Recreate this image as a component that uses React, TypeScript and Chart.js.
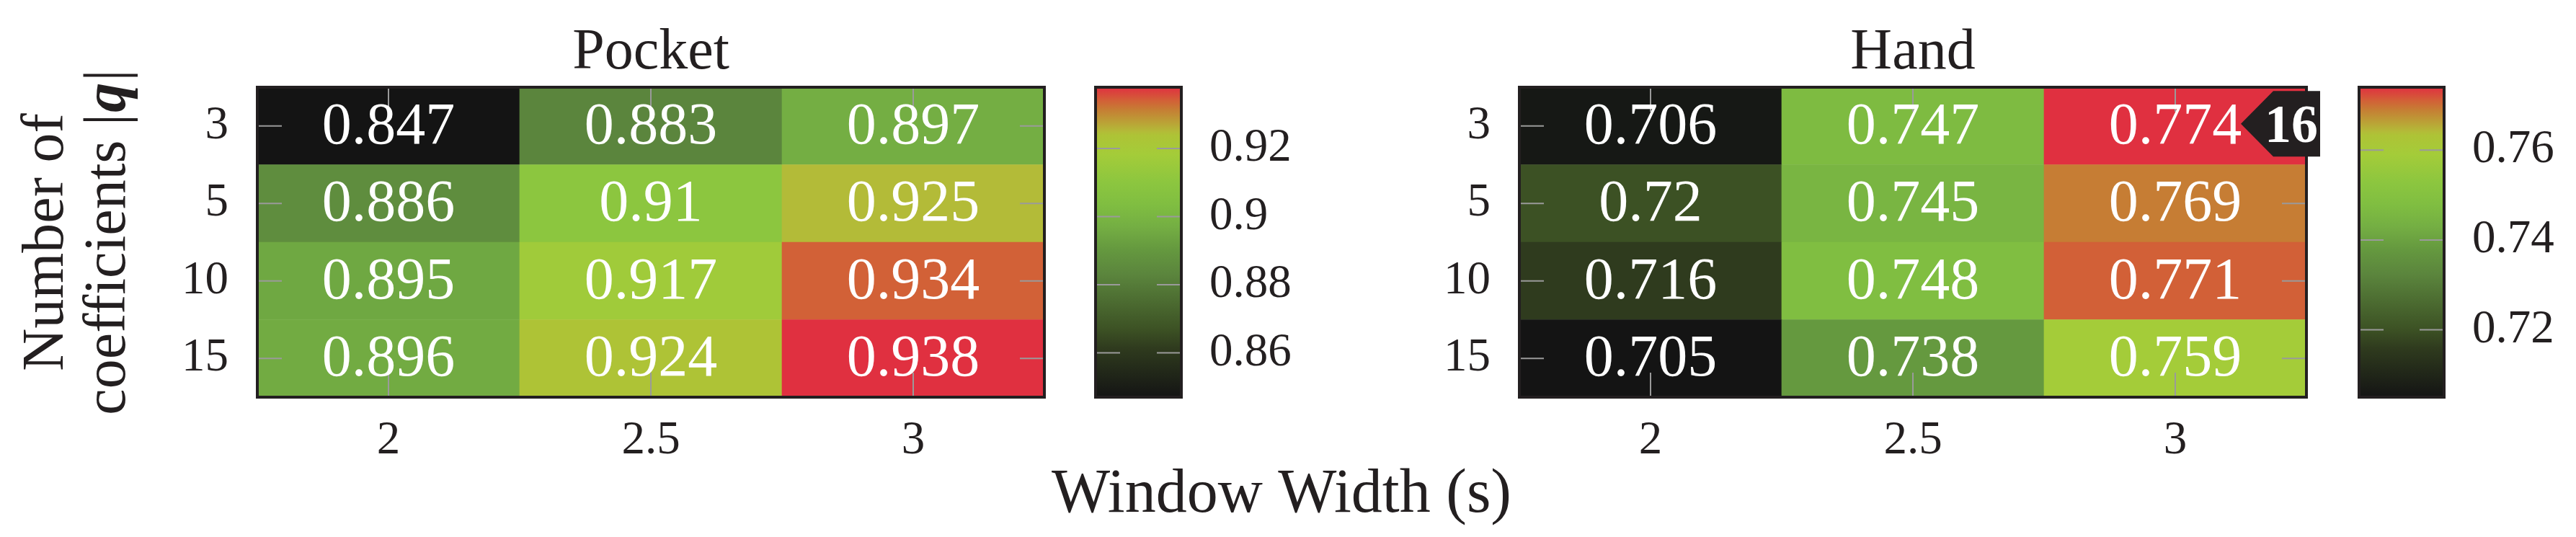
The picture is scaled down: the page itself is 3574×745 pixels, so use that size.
import React, { useEffect, useRef } from 'react';
import { Chart, registerables } from 'chart.js';

Chart.register(...registerables);

// ---------------- data ----------------
const WINDOW_WIDTHS = ['2', '2.5', '3'];
const COEFF_COUNTS = ['3', '5', '10', '15']; // top -> bottom

const POCKET_Q3 = [0.847, 0.883, 0.897];
const POCKET_Q5 = [0.886, 0.91, 0.925];
const POCKET_Q10 = [0.895, 0.917, 0.934];
const POCKET_Q15 = [0.896, 0.924, 0.938];

const HAND_Q3 = [0.706, 0.747, 0.774];
const HAND_Q5 = [0.72, 0.745, 0.769];
const HAND_Q10 = [0.716, 0.748, 0.771];
const HAND_Q15 = [0.705, 0.738, 0.759];

const POCKET_CB_TICKS = [0.86, 0.88, 0.9, 0.92];
const HAND_CB_TICKS = [0.72, 0.74, 0.76];

const HAND_BADGE_TEXT = '16';
const HAND_BADGE_ROW = 0; // row "3"
const HAND_BADGE_COL = 2; // column "3"

const TITLE_POCKET = 'Pocket';
const TITLE_HAND = 'Hand';
const X_TITLE = 'Window Width (s)';
const Y_TITLE_1 = 'Number of';
const Y_TITLE_2A = 'coefficients |';
const Y_TITLE_2B = 'q';
const Y_TITLE_2C = '|';

// ---------------- style ----------------
const W = 3574;
const H = 745;
const TOP = 121;
const BOTTOM = 551;
const SERIF = "'Liberation Serif', 'Times New Roman', serif";
const DARK = '#231f20';
const TICK_GRAY = '#9a9a9a';
const TICK_LEN = 34;

// colormap stops [t, r, g, b]
const CMAP: number[][] = [
  [0, 20, 20, 20],
  [0.159, 47, 59, 30],
  [0.217, 60, 81, 36],
  [0.396, 91, 133, 61],
  [0.478, 101, 153, 63],
  [0.549, 116, 174, 67],
  [0.623, 128, 190, 65],
  [0.692, 140, 198, 63],
  [0.783, 164, 204, 57],
  [0.846, 174, 195, 54],
  [0.857, 179, 187, 56],
  [0.928, 198, 125, 52],
  [0.957, 210, 96, 55],
  [1, 224, 48, 64],
];

function cmapColor(t: number): string {
  const tt = Math.max(0, Math.min(1, t));
  for (let i = 0; i < CMAP.length - 1; i++) {
    const a = CMAP[i];
    const b = CMAP[i + 1];
    if (tt >= a[0] && tt <= b[0]) {
      const f = (tt - a[0]) / (b[0] - a[0] || 1);
      const r = Math.round(a[1] + (b[1] - a[1]) * f);
      const g = Math.round(a[2] + (b[2] - a[2]) * f);
      const bl = Math.round(a[3] + (b[3] - a[3]) * f);
      return `rgb(${r},${g},${bl})`;
    }
  }
  const l = CMAP[CMAP.length - 1];
  return `rgb(${l[1]},${l[2]},${l[3]})`;
}

function rangeOf(rows: number[][]) {
  const all = rows.flat();
  return { min: Math.min(...all), max: Math.max(...all) };
}

function line(ctx: CanvasRenderingContext2D, x1: number, y1: number, x2: number, y2: number) {
  ctx.beginPath();
  ctx.moveTo(x1, y1);
  ctx.lineTo(x2, y2);
  ctx.stroke();
}

type HeatOpts = {
  rows: number[][]; // top -> bottom
  title: string;
  areaLeft: number;
  areaRight: number;
  drawYTitle?: boolean;
  drawXTitle?: boolean;
  badge?: { row: number; col: number; text: string };
};

function heatmapConfig(o: HeatOpts): any {
  const { min, max } = rangeOf(o.rows);
  const nRows = o.rows.length;
  const bottomUp = [...o.rows].reverse();

  const decor = {
    id: 'heatDecor',
    afterDatasetsDraw(chart: any) {
      const ctx: CanvasRenderingContext2D = chart.ctx;
      const a = chart.chartArea;
      const xs = chart.scales.x;
      const ys = chart.scales.y;
      ctx.save();
      // inner tick marks
      ctx.strokeStyle = TICK_GRAY;
      ctx.lineWidth = 2;
      ys.ticks.forEach((_: any, i: number) => {
        const y = ys.getPixelForTick(i);
        line(ctx, a.left, y, a.left + TICK_LEN, y);
        line(ctx, a.right - TICK_LEN, y, a.right, y);
      });
      xs.ticks.forEach((_: any, i: number) => {
        const x = xs.getPixelForTick(i);
        line(ctx, x, a.top, x, a.top + TICK_LEN);
        line(ctx, x, a.bottom - TICK_LEN, x, a.bottom);
      });
      // cell labels
      ctx.fillStyle = '#ffffff';
      ctx.font = `82px ${SERIF}`;
      ctx.textAlign = 'center';
      ctx.textBaseline = 'alphabetic';
      bottomUp.forEach((vals, di) => {
        const meta = chart.getDatasetMeta(di);
        meta.data.forEach((el: any, j: number) => {
          const c = el.getCenterPoint();
          ctx.fillText(String(vals[j]), c.x, c.y + 24);
        });
      });
      // frame
      ctx.strokeStyle = DARK;
      ctx.lineWidth = 4;
      ctx.strokeRect(a.left, a.top, a.right - a.left, a.bottom - a.top);
      // title
      ctx.fillStyle = DARK;
      ctx.font = `80px ${SERIF}`;
      ctx.textAlign = 'center';
      ctx.fillText(o.title, (a.left + a.right) / 2, 95);
      // badge
      if (o.badge) {
        const di = nRows - 1 - o.badge.row;
        const el: any = chart.getDatasetMeta(di).data[o.badge.col];
        const right = el.x + el.width / 2;
        const cy = (el.y + el.base) / 2 - 3;
        ctx.fillStyle = DARK;
        ctx.beginPath();
        ctx.moveTo(right - 91, cy);
        ctx.lineTo(right - 46, cy - 45.5);
        ctx.lineTo(right + 19, cy - 45.5);
        ctx.lineTo(right + 19, cy + 45.5);
        ctx.lineTo(right - 46, cy + 45.5);
        ctx.closePath();
        ctx.fill();
        ctx.fillStyle = '#ffffff';
        ctx.font = `bold 74px ${SERIF}`;
        ctx.textAlign = 'center';
        ctx.fillText(o.badge.text, right - 21, cy + 25);
      }
      // shared axis titles
      if (o.drawYTitle) {
        const cyT = (a.top + a.bottom) / 2;
        ctx.fillStyle = DARK;
        ctx.font = `82px ${SERIF}`;
        ctx.save();
        ctx.translate(87, cyT);
        ctx.rotate(-Math.PI / 2);
        ctx.textAlign = 'center';
        ctx.fillText(Y_TITLE_1, 0, 0);
        ctx.restore();
        ctx.save();
        ctx.translate(173, cyT);
        ctx.rotate(-Math.PI / 2);
        ctx.textAlign = 'left';
        const fN = `82px ${SERIF}`;
        const fB = `italic bold 82px ${SERIF}`;
        ctx.font = fN;
        const w1 = ctx.measureText(Y_TITLE_2A).width;
        const w3 = ctx.measureText(Y_TITLE_2C).width;
        ctx.font = fB;
        const w2 = ctx.measureText(Y_TITLE_2B).width + 4;
        let x = -(w1 + w2 + w3) / 2;
        ctx.font = fN;
        ctx.fillText(Y_TITLE_2A, x, 0);
        x += w1;
        ctx.font = fB;
        ctx.fillText(Y_TITLE_2B, x + 2, 0);
        x += w2;
        ctx.font = fN;
        ctx.fillText(Y_TITLE_2C, x, 0);
        ctx.restore();
      }
      if (o.drawXTitle) {
        ctx.fillStyle = DARK;
        ctx.font = `86px ${SERIF}`;
        ctx.textAlign = 'center';
        ctx.fillText(X_TITLE, 1778, 710);
      }
      ctx.restore();
    },
  };

  return {
    type: 'bar',
    data: {
      labels: WINDOW_WIDTHS,
      datasets: bottomUp.map((vals) => ({
        data: vals.map(() => 1),
        backgroundColor: vals.map((v) => cmapColor((v - min) / (max - min))),
        borderWidth: 0,
        barPercentage: 1,
        categoryPercentage: 1,
      })),
    },
    options: {
      responsive: false,
      animation: false,
      events: [],
      layout: { padding: { left: 0, top: TOP, right: W - o.areaRight, bottom: 0 } },
      plugins: { legend: { display: false }, tooltip: { enabled: false }, title: { display: false } },
      scales: {
        x: {
          type: 'category',
          stacked: true,
          offset: true,
          grid: { display: false },
          border: { display: false },
          ticks: {
            font: { family: SERIF, size: 65 },
            color: DARK,
            padding: 14,
            maxRotation: 0,
            autoSkip: false,
          },
          afterFit: (s: any) => {
            s.height = H - BOTTOM;
          },
        },
        y: {
          type: 'linear',
          stacked: true,
          min: 0,
          max: nRows,
          grid: { display: false },
          border: { display: false },
          afterBuildTicks: (s: any) => {
            s.ticks = COEFF_COUNTS.map((_, i) => ({ value: nRows - 1 - i + 0.5 })).reverse();
          },
          ticks: {
            autoSkip: false,
            font: { family: SERIF, size: 65 },
            color: DARK,
            padding: 32,
            callback: (v: number) => COEFF_COUNTS[nRows - 1 - Math.floor(v)],
          },
          afterFit: (s: any) => {
            s.width = o.areaLeft;
          },
        },
      },
    },
    plugins: [decor],
  };
}

function colorbarConfig(rows: number[][], ticks: number[], left: number, right: number): any {
  const { min, max } = rangeOf(rows);
  const decor = {
    id: 'cbDecor',
    afterDatasetsDraw(chart: any) {
      const ctx: CanvasRenderingContext2D = chart.ctx;
      const a = chart.chartArea;
      const ys = chart.scales.y;
      ctx.save();
      ctx.strokeStyle = TICK_GRAY;
      ctx.lineWidth = 2;
      ys.ticks.forEach((_: any, i: number) => {
        const y = ys.getPixelForTick(i);
        line(ctx, a.left, y, a.left + TICK_LEN, y);
        line(ctx, a.right - TICK_LEN, y, a.right, y);
      });
      ctx.strokeStyle = DARK;
      ctx.lineWidth = 4;
      ctx.strokeRect(a.left, a.top, a.right - a.left, a.bottom - a.top);
      ctx.restore();
    },
  };
  return {
    type: 'bar',
    data: {
      labels: [''],
      datasets: [
        {
          data: [[min, max]],
          backgroundColor: (c: any) => {
            const chart = c.chart;
            const ys = chart.scales && chart.scales.y;
            if (!chart.chartArea || !ys) return cmapColor(0.5);
            const g = chart.ctx.createLinearGradient(0, ys.getPixelForValue(min), 0, ys.getPixelForValue(max));
            CMAP.forEach((s) => g.addColorStop(s[0], `rgb(${s[1]},${s[2]},${s[3]})`));
            return g;
          },
          borderWidth: 0,
          barPercentage: 1,
          categoryPercentage: 1,
        },
      ],
    },
    options: {
      responsive: false,
      animation: false,
      events: [],
      layout: { padding: { left, top: TOP, right: 0, bottom: H - BOTTOM } },
      plugins: { legend: { display: false }, tooltip: { enabled: false }, title: { display: false } },
      scales: {
        x: { display: false, offset: true },
        y: {
          position: 'right',
          min,
          max,
          grid: { display: false },
          border: { display: false },
          afterBuildTicks: (s: any) => {
            s.ticks = ticks.map((v) => ({ value: v }));
          },
          ticks: {
            autoSkip: false,
            font: { family: SERIF, size: 65 },
            color: DARK,
            padding: 31,
            callback: (v: number) => String(v),
          },
          afterFit: (s: any) => {
            s.width = W - right;
          },
        },
      },
    },
    plugins: [decor],
  };
}

const POCKET_ROWS = [POCKET_Q3, POCKET_Q5, POCKET_Q10, POCKET_Q15];
const HAND_ROWS = [HAND_Q3, HAND_Q5, HAND_Q10, HAND_Q15];

export default function App() {
  const r1 = useRef<HTMLCanvasElement>(null);
  const r2 = useRef<HTMLCanvasElement>(null);
  const r3 = useRef<HTMLCanvasElement>(null);
  const r4 = useRef<HTMLCanvasElement>(null);

  useEffect(() => {
    const charts: Chart[] = [];
    charts.push(
      new Chart(
        r1.current as HTMLCanvasElement,
        heatmapConfig({ rows: POCKET_ROWS, title: TITLE_POCKET, areaLeft: 357, areaRight: 1449, drawYTitle: true })
      )
    );
    charts.push(new Chart(r2.current as HTMLCanvasElement, colorbarConfig(POCKET_ROWS, POCKET_CB_TICKS, 1520, 1639)));
    charts.push(
      new Chart(
        r3.current as HTMLCanvasElement,
        heatmapConfig({
          rows: HAND_ROWS,
          title: TITLE_HAND,
          areaLeft: 2108,
          areaRight: 3200,
          drawXTitle: true,
          badge: { row: HAND_BADGE_ROW, col: HAND_BADGE_COL, text: HAND_BADGE_TEXT },
        })
      )
    );
    charts.push(new Chart(r4.current as HTMLCanvasElement, colorbarConfig(HAND_ROWS, HAND_CB_TICKS, 3273, 3391)));
    return () => charts.forEach((c) => c.destroy());
  }, []);

  const cs: React.CSSProperties = { position: 'absolute', left: 0, top: 0 };
  return (
    <div style={{ position: 'absolute', left: 0, top: 0, width: W, height: H, background: '#ffffff', overflow: 'hidden' }}>
      <canvas ref={r1} width={W} height={H} style={cs} />
      <canvas ref={r2} width={W} height={H} style={cs} />
      <canvas ref={r3} width={W} height={H} style={cs} />
      <canvas ref={r4} width={W} height={H} style={cs} />
    </div>
  );
}
